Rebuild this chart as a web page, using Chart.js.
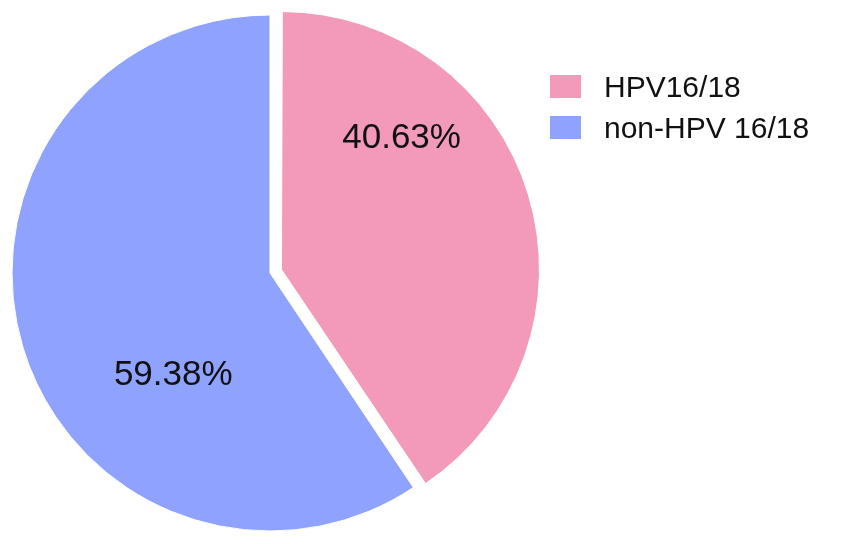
<!DOCTYPE html>
<html>
<head>
<meta charset="utf-8">
<script src="https://cdn.jsdelivr.net/npm/chart.js@4/dist/chart.umd.min.js"></script>
<style>
    html, body { margin: 0; padding: 0; background: #fff; }
    #wrap { position: relative; width: 851px; height: 544px; }
    #legend { position: absolute; left: 550px; top: 66px; font-family: "Liberation Sans", Arial, sans-serif; font-size: 30px; color: #111; }
    #legend .row { display: flex; align-items: center; height: 41px; }
    #legend .box { width: 31px; height: 23px; margin-right: 23px; }
</style>
</head>
<body>
<div id="wrap">
    <canvas id="pieChart" width="851" height="544"></canvas>
    <div id="legend"></div>
</div>
<script>
// 数据
const categories = ['HPV16/18', 'non-HPV 16/18'];
const percentages = [40.63, 59.38];
const valueLabels = ['40.63%', '59.38%'];
const sliceColors = ['#F39ABB', '#8FA2FD'];

// Chart.js 的 offset 会把扇区略微放大，这里抵消掉，保持同一半径
const keepRadiusPlugin = {
    id: 'keepRadius',
    beforeDatasetsDraw(chart) {
        const arcs = chart.getDatasetMeta(0).data;
        const base = chart.options.radius;
        arcs.forEach(arc => {
            const off = (arc.options.offset || 0) / 4;
            const fix = 1 - Math.sin(Math.min(Math.PI, arc.circumference));
            arc.outerRadius = base - off * fix;
        });
    }
};

// 扇区内文字（相对圆心，按半径比例）
const labelPlugin = {
    id: 'sliceLabels',
    afterDatasetsDraw(chart) {
        const { ctx } = chart;
        const arcs = chart.getDatasetMeta(0).data;
        const spots = [[0.51, -0.52], [-0.375, 0.395]];
        ctx.save();
        ctx.font = '35px "Liberation Sans", Arial, sans-serif';
        ctx.fillStyle = '#111';
        ctx.textAlign = 'center';
        ctx.textBaseline = 'middle';
        arcs.forEach((arc, i) => {
            const r = chart.options.radius;
            ctx.fillText(valueLabels[i], arc.x + spots[i][0] * r, arc.y + spots[i][1] * r);
        });
        ctx.restore();
    }
};

new Chart(document.getElementById('pieChart'), {
    type: 'pie',
    data: {
        labels: categories,
        datasets: [{
            data: percentages,
            backgroundColor: sliceColors,
            borderColor: '#fff',
            borderWidth: 1,
            offset: [48, 0]
        }]
    },
    options: {
        responsive: false,
        animation: false,
        radius: 258,
        layout: { padding: { left: 0, top: 2, right: 311, bottom: 0 } },
        plugins: {
            legend: { display: false },
            tooltip: { enabled: false }
        }
    },
    plugins: [keepRadiusPlugin, labelPlugin]
});

// 图例
const legendEl = document.getElementById('legend');
categories.forEach((name, i) => {
    const row = document.createElement('div');
    row.className = 'row';
    row.innerHTML = `<span class="box" style="background:${sliceColors[i]}"></span><span>${name}</span>`;
    legendEl.appendChild(row);
});
</script>
</body>
</html>
